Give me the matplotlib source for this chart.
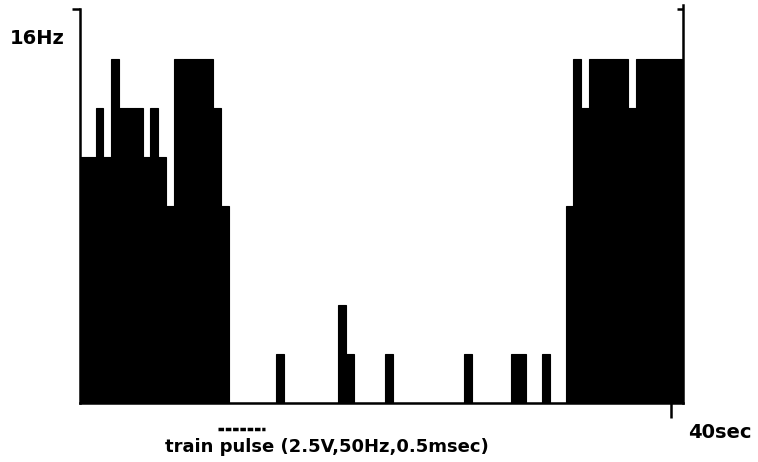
import matplotlib
matplotlib.use("Agg")
import matplotlib.pyplot as plt
import matplotlib.transforms as mtransforms
import numpy as np

# firing rate histogram, one value per bin (Hz)
BIN_SEC = 0.53
rate_before = [10, 10, 12, 10, 14, 12, 12, 12, 10, 12, 10, 8, 14, 14, 14, 14, 14, 12, 8]
rate_silent = [0, 0, 0, 0, 0, 0, 2, 0, 0, 0, 0, 0, 0, 0, 4, 2, 0, 0, 0, 0, 2, 0,
               0, 0, 0, 0, 0, 0, 0, 0, 2, 0, 0, 0, 0, 0, 2, 2, 0, 0, 2, 0, 0]
rate_after = [8, 14, 12, 14, 14, 14, 14, 14, 12, 14, 14, 14, 14, 14, 14]

# stimulus marker (sec)
stim_start = 9.35
stim_end = 12.55
stim_label = "train pulse (2.5V,50Hz,0.5msec)"

y_max_hz = 16
x_tick_sec = 40

rates = np.array(rate_before + rate_silent + rate_after)
edges = np.arange(len(rates)) * BIN_SEC
t_end = len(rates) * BIN_SEC

fig = plt.figure(figsize=(7.58, 4.62), dpi=100)
W, H = 758, 462
ax = fig.add_axes([80 / W, 59 / H, 603 / W, 398 / H])

ax.bar(edges, rates, width=BIN_SEC, align="edge", color="black",
       edgecolor="black", linewidth=0.8)

ax.set_xlim(0, t_end)
ax.set_ylim(0, 16.18)

for side in ["left", "right", "bottom"]:
    ax.spines[side].set_linewidth(1.8)
ax.spines["top"].set_visible(False)
ax.spines["left"].set_bounds(0, y_max_hz)

ax.set_xticks([x_tick_sec])
ax.set_xticklabels([])
ax.set_yticks([y_max_hz])
ax.set_yticklabels([])
ax.tick_params(axis="x", direction="out", length=11, width=1.8)
ax.tick_params(axis="y", direction="out", length=6, width=1.8, right=True)
for t in ax.yaxis.get_major_ticks():
    t.tick2line.set_markersize(4)
    t.tick2line.set_marker(0)

fig.text(65 / W, 1 - 39 / H, f"{y_max_hz}Hz", ha="right", va="center",
         fontsize=14, fontweight="bold")
fig.text(720 / W, 1 - 432 / H, f"{x_tick_sec}sec", ha="center", va="center",
         fontsize=14, fontweight="bold")

trans = mtransforms.blended_transform_factory(ax.transData, ax.transAxes)
ax.plot([stim_start, stim_end], [-0.065, -0.065], transform=trans,
        color="black", linewidth=2.5, linestyle=(0, (1.6, 0.5)),
        clip_on=False, solid_capstyle="butt", dash_capstyle="butt")
fig.text(327 / W, 1 - 447 / H, stim_label, ha="center", va="center",
         fontsize=13, fontweight="bold")

fig.savefig("out.png", dpi=100)
